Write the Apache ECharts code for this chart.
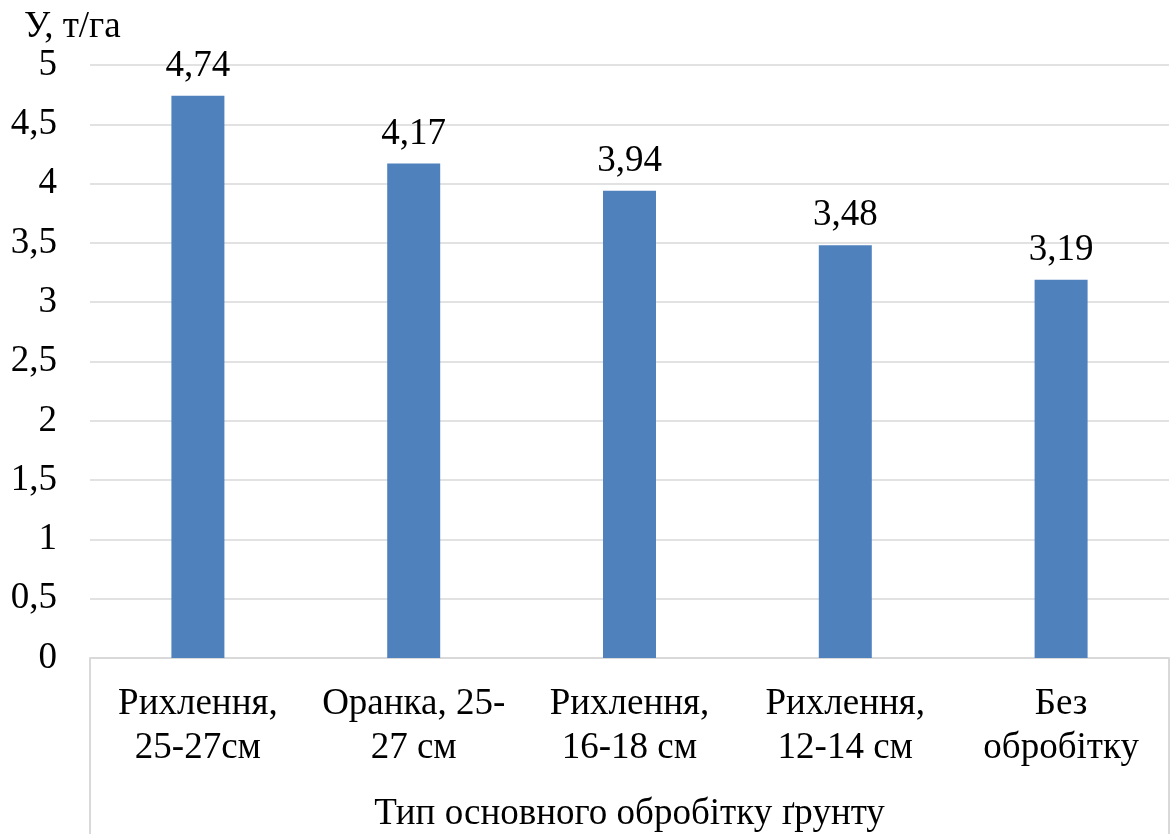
<!DOCTYPE html>
<html>
<head>
<meta charset="utf-8">
<script src="https://cdn.jsdelivr.net/npm/echarts@6/dist/echarts.min.js"></script>
<style>
  html, body { margin: 0; padding: 0; background: #fff; }
  #chart { width: 1171px; height: 834px; }
</style>
</head>
<body>
<div id="chart"></div>
<script>
// Yield by primary tillage type
const categories = ['Рихлення,\n25-27см', 'Оранка, 25-\n27 см', 'Рихлення,\n16-18 см', 'Рихлення,\n12-14 см', 'Без\nобробітку'];
const yieldValues = [4.74, 4.17, 3.94, 3.48, 3.19];
const groupTitle = ['Тип основного обробітку ґрунту'];
const yAxisTitle = 'У, т/га';

const FONT = '"Liberation Serif", "Times New Roman", serif';
const FS = 37;
const GRID_COLOR = '#d9d9d9';
const comma = v => String(v).replace('.', ',');

const chart = echarts.init(document.getElementById('chart'));
chart.setOption({
  animation: false,
  backgroundColor: '#fff',
  textStyle: { fontFamily: FONT },
  title: {
    text: yAxisTitle,
    left: 19, top: 4,
    textStyle: { fontFamily: FONT, fontSize: FS, fontWeight: 'normal', color: '#000' }
  },
  grid: { left: 90, right: 2, top: 65, bottom: 176, containLabel: false },
  xAxis: [
    {
      type: 'category',
      data: categories,
      axisLine: { show: true, lineStyle: { color: GRID_COLOR, width: 2 } },
      axisTick: { show: false },
      axisLabel: {
        fontFamily: FONT, fontSize: FS, color: '#000',
        margin: 24, lineHeight: 44, interval: 0
      }
    },
    {
      type: 'category',
      data: groupTitle,
      position: 'bottom',
      offset: 176,
      axisLine: { show: false },
      axisTick: { show: true, inside: true, length: 176, lineStyle: { color: GRID_COLOR, width: 2 } },
      axisLabel: {
        fontFamily: FONT, fontSize: FS, color: '#000', margin: -38
      }
    }
  ],
  yAxis: {
    type: 'value',
    min: 0, max: 5, interval: 0.5,
    axisLine: { show: false },
    axisTick: { show: false },
    splitLine: { lineStyle: { color: GRID_COLOR, width: 1.5 } },
    axisLabel: {
      fontFamily: FONT, fontSize: FS, color: '#000', margin: 33,
      formatter: v => comma(v)
    }
  },
  series: [{
    type: 'bar',
    data: yieldValues,
    barWidth: 53,
    itemStyle: { color: '#4f81bd' },
    label: {
      show: true, position: 'top', distance: 11,
      fontFamily: FONT, fontSize: FS, color: '#000',
      formatter: p => comma(p.value)
    }
  }]
});
</script>
</body>
</html>
